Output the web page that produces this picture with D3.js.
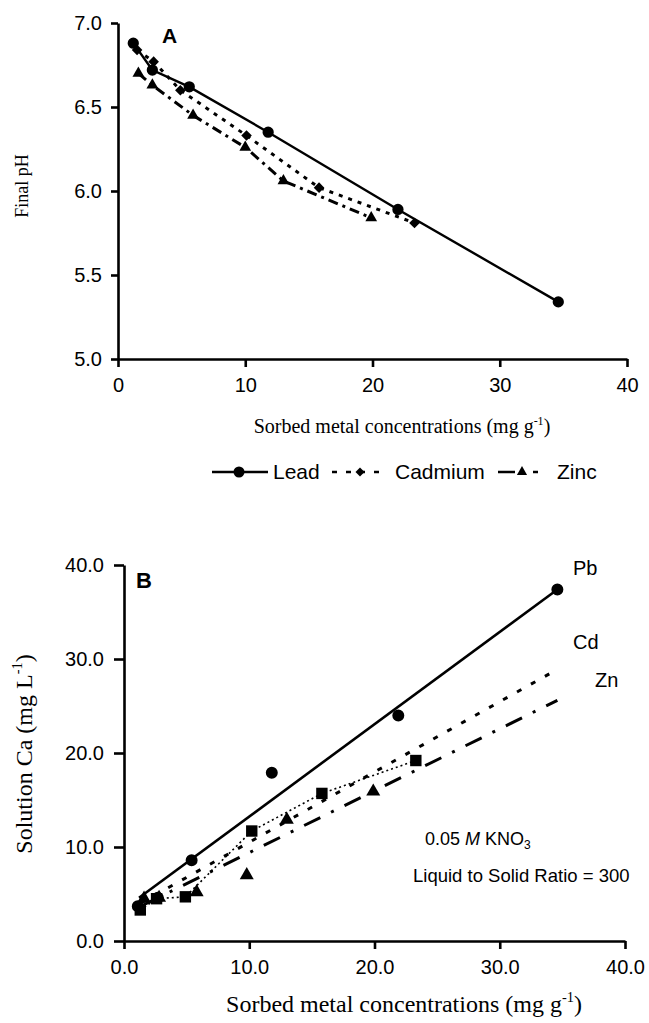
<!DOCTYPE html>
<html>
<head>
<meta charset="utf-8">
<script src="https://cdn.jsdelivr.net/npm/d3@7/dist/d3.min.js"></script>
<style>
  body { margin: 0; background: #fff; }
  .tick text { font-family: "Liberation Sans", Arial, sans-serif; fill: #000; }
</style>
</head>
<body>
<svg id="chart" width="649" height="1023"></svg>
<script>
// ---- Panel A: final pH vs sorbed metal ----
const phLead = [[1.2, 6.88], [2.7, 6.72], [5.6, 6.62], [11.8, 6.35], [22.0, 5.89], [34.6, 5.34]];
const phCadmium = [[1.5, 6.84], [2.8, 6.77], [4.9, 6.6], [10.1, 6.33], [15.8, 6.02], [23.3, 5.81]];
const phZinc = [[1.6, 6.7], [2.7, 6.63], [5.9, 6.45], [10.0, 6.26], [13.0, 6.06], [19.9, 5.84]];
const phTicksX = [0, 10, 20, 30, 40];
const phTicksY = [5.0, 5.5, 6.0, 6.5, 7.0];

// ---- Panel B: solution Ca vs sorbed metal ----
const caLead = [[1.1, 3.7], [2.7, 4.6], [5.4, 8.6], [11.8, 17.9], [21.9, 24.0], [34.6, 37.4]];
const caCadmium = [[1.3, 3.3], [2.6, 4.5], [4.9, 4.7], [10.2, 11.7], [15.8, 15.7], [23.3, 19.2]];
const caZinc = [[1.6, 4.5], [2.8, 4.6], [5.8, 5.2], [9.8, 7.0], [13.0, 12.9], [19.9, 15.9]];
// fitted lines, start and end
const fitLead = [[1.2, 4.6], [34.6, 37.4]];
const fitCadmium = [[1.3, 4.0], [34.6, 28.9]];
const fitZinc = [[1.5, 3.8], [34.6, 25.6]];
const caTicks = [0, 10, 20, 30, 40];

const svg = d3.select("#chart");
const sans = '"Liberation Sans", Arial, sans-serif';
const serif = '"Liberation Serif", "Times New Roman", serif';

function styleAxis(g, size) {
  g.select(".domain").attr("stroke-width", 2.6);
  g.selectAll(".tick line").attr("stroke-width", 2.6);
  g.selectAll(".tick text").style("font-size", size + "px");
}

function marker(g, data, x, y, type, size, rotate) {
  g.selectAll(null)
    .data(data)
    .join("path")
    .attr("d", d3.symbol().type(type).size(size))
    .attr("transform", (d) => `translate(${x(d[0])},${y(d[1])})` + (rotate ? " rotate(45)" : ""))
    .attr("fill", "#000");
}

// superscript helper for titles like "(mg g-1)"
function titleWithSup(t, before, sup, after, fs) {
  t.append("tspan").text(before);
  t.append("tspan").attr("dy", -fs * 0.42).style("font-size", fs * 0.6 + "px").text(sup);
  t.append("tspan").attr("dy", fs * 0.42).text(after);
}

// ================= Panel A =================
const xA = d3.scaleLinear().domain([0, 40]).range([118, 627]);
const yA = d3.scaleLinear().domain([5, 7]).range([359, 23]);

svg.append("g")
  .attr("transform", "translate(0,359)")
  .call(d3.axisBottom(xA).tickValues(phTicksX).tickFormat(d3.format("d")).tickSize(8).tickPadding(11).tickSizeOuter(0))
  .call((g) => styleAxis(g, 20));

svg.append("g")
  .attr("transform", "translate(118,0)")
  .call(d3.axisLeft(yA).tickValues(phTicksY).tickFormat(d3.format(".1f")).tickSize(7).tickPadding(9).tickSizeOuter(0))
  .call((g) => styleAxis(g, 20));

const lineA = d3.line().x((d) => xA(d[0])).y((d) => yA(d[1]));
const gA = svg.append("g");

gA.append("path").attr("d", lineA(phLead)).attr("fill", "none").attr("stroke", "#000").attr("stroke-width", 2.4);
gA.append("path").attr("d", lineA(phCadmium)).attr("fill", "none").attr("stroke", "#000")
  .attr("stroke-width", 3).attr("stroke-dasharray", "4,6");
gA.append("path").attr("d", lineA(phZinc)).attr("fill", "none").attr("stroke", "#000")
  .attr("stroke-width", 3).attr("stroke-dasharray", "10,5,3,5");

marker(gA, phLead, xA, yA, d3.symbolCircle, 100);
marker(gA, phCadmium, xA, yA, d3.symbolSquare, 56, true);
marker(gA, phZinc, xA, yA, d3.symbolTriangle, 60);

svg.append("text").attr("x", 162).attr("y", 43)
  .style("font-family", sans).style("font-weight", "bold").style("font-size", "21px").text("A");

svg.append("text")
  .attr("transform", "translate(28,186) rotate(-90)")
  .attr("text-anchor", "middle")
  .style("font-family", serif).style("font-size", "18px")
  .text("Final pH");

titleWithSup(
  svg.append("text").attr("x", 402).attr("y", 433).attr("text-anchor", "middle")
    .style("font-family", serif).style("font-size", "20px"),
  "Sorbed metal concentrations (mg g", "-1", ")", 20);

// legend
const legY = 472;
const lg = svg.append("g").style("font-family", sans).style("font-size", "21px");
lg.append("line").attr("x1", 212).attr("x2", 268).attr("y1", legY).attr("y2", legY).attr("stroke", "#000").attr("stroke-width", 2.4);
lg.append("circle").attr("cx", 239).attr("cy", legY).attr("r", 5.5);
lg.append("text").attr("x", 273).attr("y", legY + 7).text("Lead");

lg.append("line").attr("x1", 332).attr("x2", 386).attr("y1", legY).attr("y2", legY).attr("stroke", "#000")
  .attr("stroke-width", 2.6).attr("stroke-dasharray", "5,9");
lg.append("path").attr("d", d3.symbol().type(d3.symbolSquare).size(40)).attr("transform", `translate(360,${legY}) rotate(45)`);
lg.append("text").attr("x", 395).attr("y", legY + 7).text("Cadmium");

lg.append("line").attr("x1", 498).attr("x2", 541).attr("y1", legY).attr("y2", legY).attr("stroke", "#000")
  .attr("stroke-width", 2.6).attr("stroke-dasharray", "17,18,5");
lg.append("path").attr("d", d3.symbol().type(d3.symbolTriangle).size(45)).attr("transform", `translate(522,${legY})`);
lg.append("text").attr("x", 557).attr("y", legY + 7).text("Zinc");

// ================= Panel B =================
const xB = d3.scaleLinear().domain([0, 40]).range([124, 625]);
const yB = d3.scaleLinear().domain([0, 40]).range([941, 565]);

svg.append("g")
  .attr("transform", "translate(0,941)")
  .call(d3.axisBottom(xB).tickValues(caTicks).tickFormat(d3.format(".1f")).tickSize(8).tickPadding(11).tickSizeOuter(0))
  .call((g) => styleAxis(g, 20));

svg.append("g")
  .attr("transform", "translate(124,0)")
  .call(d3.axisLeft(yB).tickValues(caTicks).tickFormat(d3.format(".1f")).tickSize(10).tickPadding(10).tickSizeOuter(0))
  .call((g) => styleAxis(g, 20));

const lineB = d3.line().x((d) => xB(d[0])).y((d) => yB(d[1]));
const gB = svg.append("g");

gB.append("path").attr("d", lineB(fitLead)).attr("fill", "none").attr("stroke", "#000").attr("stroke-width", 2.6);
gB.append("path").attr("d", lineB(fitCadmium)).attr("fill", "none").attr("stroke", "#000")
  .attr("stroke-width", 3).attr("stroke-dasharray", "5,11");
gB.append("path").attr("d", lineB(fitZinc)).attr("fill", "none").attr("stroke", "#000")
  .attr("stroke-width", 3).attr("stroke-dasharray", "18,12,3,12");
gB.append("path").attr("d", lineB(caCadmium)).attr("fill", "none").attr("stroke", "#000")
  .attr("stroke-width", 1.6).attr("stroke-dasharray", "2,3");

marker(gB, caLead, xB, yB, d3.symbolCircle, 113);
marker(gB, caCadmium, xB, yB, d3.symbolSquare, 130);
marker(gB, caZinc, xB, yB, d3.symbolTriangle, 85);

svg.append("text").attr("x", 136).attr("y", 588)
  .style("font-family", sans).style("font-weight", "bold").style("font-size", "22px").text("B");

const ann = svg.append("g").style("font-family", sans).style("font-size", "20px");
ann.append("text").attr("x", 573).attr("y", 575).text("Pb");
ann.append("text").attr("x", 573).attr("y", 649).text("Cd");
ann.append("text").attr("x", 595).attr("y", 687).text("Zn");

const kno = ann.append("text").attr("x", 425).attr("y", 845).style("font-size", "18px");
kno.append("tspan").text("0.05 ");
kno.append("tspan").style("font-style", "italic").text("M");
kno.append("tspan").text("  KNO");
kno.append("tspan").attr("dy", 4).style("font-size", "12px").text("3");
ann.append("text").attr("x", 413).attr("y", 882).style("font-size", "18.5px").text("Liquid to Solid Ratio = 300");

titleWithSup(
  svg.append("text")
    .attr("transform", "translate(32,754) rotate(-90)")
    .attr("text-anchor", "middle")
    .style("font-family", serif).style("font-size", "24px"),
  "Solution Ca (mg L", "-1", ")", 24);

titleWithSup(
  svg.append("text").attr("x", 404).attr("y", 1012).attr("text-anchor", "middle")
    .style("font-family", serif).style("font-size", "24px"),
  "Sorbed metal concentrations (mg g", "-1", ")", 24);
</script>
</body>
</html>
